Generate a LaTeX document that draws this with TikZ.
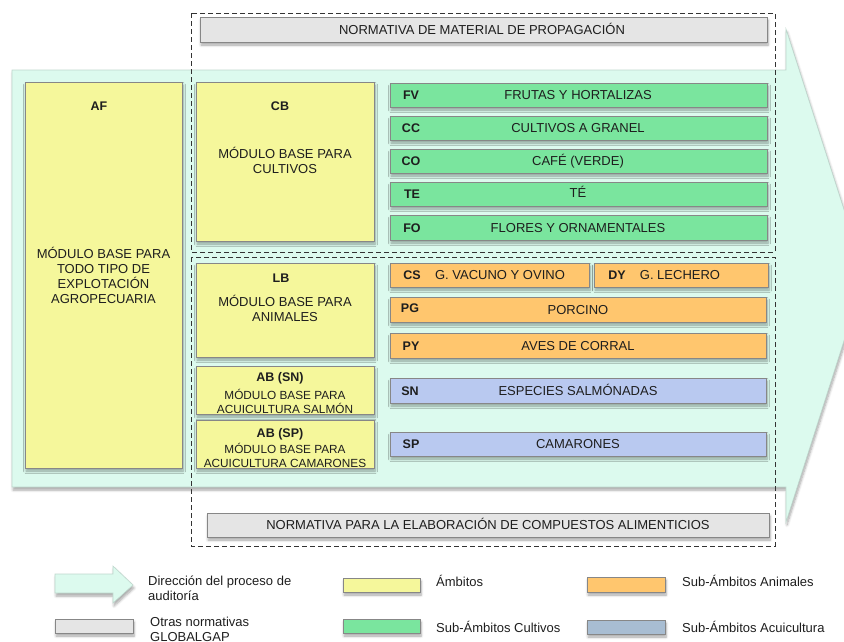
\documentclass[tikz,border=0pt]{standalone}
\usepackage{fontspec}
\setmainfont{Liberation Sans}
\usetikzlibrary{shadows,shadows.blur}
\definecolor{mint}{RGB}{220,250,238}
\definecolor{mintedge}{RGB}{190,215,205}
\definecolor{yel}{RGB}{245,247,155}
\definecolor{grn}{RGB}{122,229,158}
\definecolor{org}{RGB}{255,198,110}
\definecolor{blu}{RGB}{185,201,240}
\definecolor{blugray}{RGB}{168,189,210}
\definecolor{gry}{RGB}{229,229,229}
\definecolor{edge}{RGB}{135,135,135}
\definecolor{txt}{RGB}{30,30,30}
\begin{document}
\begin{tikzpicture}[x=1pt,y=-1pt,
  every node/.style={font=\fontsize{13}{15}\selectfont, text=txt, inner sep=0pt},
  shad/.style={blur shadow={shadow xshift=1pt, shadow yshift=-3pt, shadow blur steps=6, shadow blur radius=2.5pt, shadow opacity=35}},
  box/.style={shape=rectangle, draw=edge, line width=0.7pt, shad},
  ybox/.style={box, fill=yel},
  gbox/.style={box, fill=grn},
  obox/.style={box, fill=org},
  bbox/.style={box, fill=blu},
  nbox/.style={box, fill=gry},
  code/.style={font=\fontsize{12.5}{14}\selectfont\bfseries},
  lab/.style={text height=9.3pt, text depth=0pt},
  small/.style={font=\fontsize{11.8}{14}\selectfont, align=center},
  dashbox/.style={draw=black!80, line width=1pt, dash pattern=on 5pt off 3pt},
  legtext/.style={anchor=west, align=left, font=\fontsize{13}{15}\selectfont}]
\useasboundingbox (0,0) rectangle (844,641);

% big process arrow
\path[fill=mint, draw=mintedge, line width=0.6pt, shad]
  (12,70) -- (786,70) -- (786,29) -- (865,275) -- (786,522) -- (786,487) -- (12,487) -- cycle;

% grey normative boxes
\node[nbox, minimum width=567, minimum height=25] (gtop) at (483.5,29.5) {};
\node[lab] (gtoptext) at (482,29.5) {NORMATIVA DE MATERIAL DE PROPAGACIÓN};
\node[nbox, minimum width=562, minimum height=24] (gbot) at (488,525) {};
\node[lab] (gbottext) at (488,525) {NORMATIVA PARA LA ELABORACIÓN DE COMPUESTOS ALIMENTICIOS};

% dashed frames
\draw[dashbox] (191,13) rectangle (775,252);
\draw[dashbox] (191,257) rectangle (775,546);

% AF
\node[ybox, minimum width=157, minimum height=386] (af) at (103.5,275) {};
\node[code, lab] (afcode) at (99,106) {AF};
\node[align=center] (aftext) at (103.5,275) {MÓDULO BASE PARA\\TODO TIPO DE\\EXPLOTACIÓN\\AGROPECUARIA};

% CB
\node[ybox, minimum width=178, minimum height=159] (cb) at (285,161.5) {};
\node[code, lab] (cbcode) at (280,106) {CB};
\node[align=center] (cbtext) at (285,160) {MÓDULO BASE PARA\\CULTIVOS};

% LB
\node[ybox, minimum width=178, minimum height=94] (lb) at (285,310) {};
\node[code, lab] (lbcode) at (281,278) {LB};
\node[align=center] (lbtext) at (285,308) {MÓDULO BASE PARA\\ANIMALES};

% AB SN
\node[ybox, minimum width=178, minimum height=48] (absn) at (285,390) {};
\node[code, lab] (absncode) at (280,377) {AB (SN)};
\node[small] (absntext) at (285,401) {MÓDULO BASE PARA\\ACUICULTURA SALMÓN};

% AB SP
\node[ybox, minimum width=178, minimum height=48] (absp) at (285,444) {};
\node[code, lab] (abspcode) at (280,433) {AB (SP)};
\node[small] (absptext) at (285,455.5) {MÓDULO BASE PARA\\ACUICULTURA CAMARONES};

% crop sub-scopes
\node[gbox, minimum width=377, minimum height=24] (fv) at (578.5,95) {};
\node[code, lab] (fvcode) at (411,95) {FV};
\node[lab] (fvtext) at (578,95) {FRUTAS Y HORTALIZAS};
\node[gbox, minimum width=377, minimum height=24] (cc) at (578.5,128) {};
\node[code, lab] (cccode) at (411,128) {CC};
\node[lab] (cctext) at (578,128) {CULTIVOS A GRANEL};
\node[gbox, minimum width=377, minimum height=24] (co) at (578.5,161) {};
\node[code, lab] (cocode) at (411,161) {CO};
\node[lab] (cotext) at (578,161) {CAFÉ (VERDE)};
\node[gbox, minimum width=377, minimum height=24] (te) at (578.5,194) {};
\node[code, lab] (tecode) at (412,194) {TE};
\node[lab] (tetext) at (578,193) {TÉ};
\node[gbox, minimum width=377, minimum height=25] (fo) at (578.5,227.5) {};
\node[code, lab] (focode) at (412,227.5) {FO};
\node[lab] (fotext) at (578,227.5) {FLORES Y ORNAMENTALES};

% animal sub-scopes
\node[obox, minimum width=199, minimum height=24] (cs) at (489.5,275) {};
\node[code, lab] (cscode) at (412,275) {CS};
\node[lab] (cstext) at (500,275) {G. VACUNO Y OVINO};
\node[obox, minimum width=174, minimum height=24] (dy) at (681,275) {};
\node[code, lab] (dycode) at (617,275) {DY};
\node[lab] (dytext) at (680,275) {G. LECHERO};
\node[obox, minimum width=376, minimum height=25] (pg) at (578,309.5) {};
\node[code, lab] (pgcode) at (410,308) {PG};
\node[lab] (pgtext) at (578,309.5) {PORCINO};
\node[obox, minimum width=376, minimum height=25] (py) at (578,345.5) {};
\node[code, lab] (pycode) at (411,346) {PY};
\node[lab] (pytext) at (578,345.5) {AVES DE CORRAL};

% aquaculture sub-scopes
\node[bbox, minimum width=376, minimum height=25] (sn) at (578,390.5) {};
\node[code, lab] (sncode) at (410,390.5) {SN};
\node[lab] (sntext) at (578,390.5) {ESPECIES SALMÓNADAS};
\node[bbox, minimum width=376, minimum height=24] (sp) at (578,444) {};
\node[code, lab] (spcode) at (411,444) {SP};
\node[lab] (sptext) at (578,444) {CAMARONES};

% legend
\path[fill=mint, draw=mintedge, line width=0.6pt, shad]
  (55,574) -- (113,574) -- (113,566) -- (133,585) -- (113,603) -- (113,593) -- (55,593) -- cycle;
\node[legtext] (l1) at (148,588.5) {Dirección del proceso de\\auditoría};
\node[nbox, minimum width=78, minimum height=14] (lg) at (94,626) {};
\node[legtext] (l2) at (150,629.5) {Otras normativas\\GLOBALGAP};
\node[ybox, minimum width=77, minimum height=14] (ly) at (381.5,585) {};
\node[legtext, lab] (l3) at (436,582) {Ámbitos};
\node[gbox, minimum width=77, minimum height=14] (lgr) at (381.5,626) {};
\node[legtext, lab] (l4) at (436,628) {Sub-Ámbitos Cultivos};
\node[obox, minimum width=78, minimum height=15] (lo) at (626,584.5) {};
\node[legtext, lab] (l5) at (682,582) {Sub-Ámbitos Animales};
\node[box, fill=blugray, minimum width=78, minimum height=14] (lb2) at (626,627) {};
\node[legtext, lab] (l6) at (682,628) {Sub-Ámbitos Acuicultura};
\end{tikzpicture}
\end{document}
